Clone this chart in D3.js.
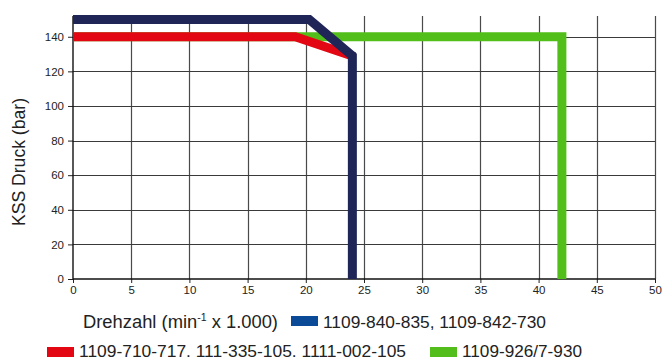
<!DOCTYPE html>
<html>
<head>
<meta charset="utf-8">
<script src="https://cdn.jsdelivr.net/npm/d3@7"></script>
<style>
  html, body { margin: 0; padding: 0; background: #fff; }
  svg { display: block; font-family: "Liberation Sans", Arial, sans-serif; }
</style>
</head>
<body>
<svg id="chart" width="662" height="361"></svg>
<script>
// ---- data ----
const xTicks = [0, 5, 10, 15, 20, 25, 30, 35, 40, 45, 50];
const yTicks = [0, 20, 40, 60, 80, 100, 120, 140];

const seriesNames = ["1109-840-835, 1109-842-730", "1109-710-717. 111-335-105. 1111-002-105", "1109-926/7-930"];
const greenX = [0, 42, 42];
const greenY = [140, 140, 0];
const redX = [0, 19.1, 24.2];
const redY = [140, 140, 128.5];
const blueX = [0, 20.3, 24, 24];
const blueY = [150, 150, 129, 0];

const xLabel = "Drehzahl (min";
const xLabelSup = "-1";
const xLabelEnd = " x 1.000)";
const yLabel = "KSS Druck (bar)";

// ---- chart ----
const svg = d3.select("#chart");
const x = d3.scaleLinear().domain([0, 50]).range([73, 655]);
const y = d3.scaleLinear().domain([0, 152]).range([279, 16]);

// grid
const g = svg.append("g");
g.selectAll("line.vg").data(xTicks.filter(d => d > 0)).enter().append("line")
  .attr("x1", d => Math.round(x(d)) + 0.5).attr("x2", d => Math.round(x(d)) + 0.5)
  .attr("y1", y.range()[1]).attr("y2", y(0))
  .attr("stroke", "#4a4a4a").attr("stroke-width", 1.2);
g.selectAll("line.hg").data(yTicks.filter(d => d > 0)).enter().append("line")
  .attr("y1", d => Math.round(y(d)) + 0.5).attr("y2", d => Math.round(y(d)) + 0.5)
  .attr("x1", x(0)).attr("x2", x(50))
  .attr("stroke", "#3a3a3a").attr("stroke-width", 1.2);

// axes
const yAxis = d3.axisLeft(y).tickValues(yTicks).tickSize(5).tickPadding(4);
const xAxis = d3.axisBottom(x).tickValues(xTicks).tickSize(4).tickPadding(3);

const ya = svg.append("g").attr("transform", `translate(${x(0)},0)`).call(yAxis);
ya.select(".domain").remove();
ya.append("line").attr("x1", 0).attr("x2", 0).attr("y1", y.range()[1]).attr("y2", y(0) + 0.5)
  .attr("stroke", "#111").attr("stroke-width", 1.4);
ya.selectAll("text").attr("font-size", 11.5).attr("fill", "#222").attr("font-family", "Liberation Sans, Arial, sans-serif");
ya.selectAll(".tick line").attr("stroke", "#222");

const xa = svg.append("g").attr("transform", `translate(0,${y(0)})`).call(xAxis);
xa.select(".domain").remove();
xa.append("line").attr("x1", x(0)).attr("x2", x(50) + 0.5).attr("y1", 0).attr("y2", 0)
  .attr("stroke", "#111").attr("stroke-width", 1.4);
xa.selectAll("text").attr("font-size", 11.5).attr("fill", "#222").attr("font-family", "Liberation Sans, Arial, sans-serif");
xa.selectAll(".tick line").attr("stroke", "#222");

// lines
const line = d3.line().x(d => x(d[0])).y(d => y(d[1]));
const series = [
  { xs: greenX, ys: greenY, color: "#52be1a" },
  { xs: redX, ys: redY, color: "#e30613" },
  { xs: blueX, ys: blueY, color: "#1f2557" }
];
series.forEach(s => {
  const pts = s.xs.map((v, i) => [v, s.ys[i]]);
  svg.append("path").attr("d", line(pts))
    .attr("fill", "none").attr("stroke", s.color).attr("stroke-width", 9)
    .attr("stroke-linejoin", "miter").attr("stroke-linecap", "butt");
});

// y label
svg.append("text")
  .attr("transform", "translate(25,162) rotate(-90)")
  .attr("text-anchor", "middle")
  .attr("font-size", 17.5).attr("fill", "#222")
  .attr("textLength", 128).attr("lengthAdjust", "spacingAndGlyphs")
  .text(yLabel);

// x label
const xl = svg.append("text").attr("x", 83).attr("y", 328)
  .attr("font-size", 17.5).attr("fill", "#222")
  .attr("textLength", 195).attr("lengthAdjust", "spacingAndGlyphs");
xl.append("tspan").text(xLabel);
xl.append("tspan").attr("font-size", 10).attr("dy", -7).text(xLabelSup);
xl.append("tspan").attr("dy", 7).text(xLabelEnd);

// legend
const legend = [
  { name: seriesNames[0], color: "#0b4a96", sx: 291, sy: 316, tx: 323, ty: 328, tw: 223 },
  { name: seriesNames[1], color: "#e30613", sx: 47, sy: 347, tx: 79, ty: 357, tw: 327 },
  { name: seriesNames[2], color: "#52bd1b", sx: 430, sy: 347, tx: 462, ty: 357, tw: 120 }
];
legend.forEach(l => {
  svg.append("rect").attr("x", l.sx).attr("y", l.sy).attr("width", 27).attr("height", 10).attr("fill", l.color);
  svg.append("text").attr("x", l.tx).attr("y", l.ty).attr("font-size", 17).attr("fill", "#222")
    .attr("textLength", l.tw).attr("lengthAdjust", "spacingAndGlyphs").text(l.name);
});
</script>
</body>
</html>
